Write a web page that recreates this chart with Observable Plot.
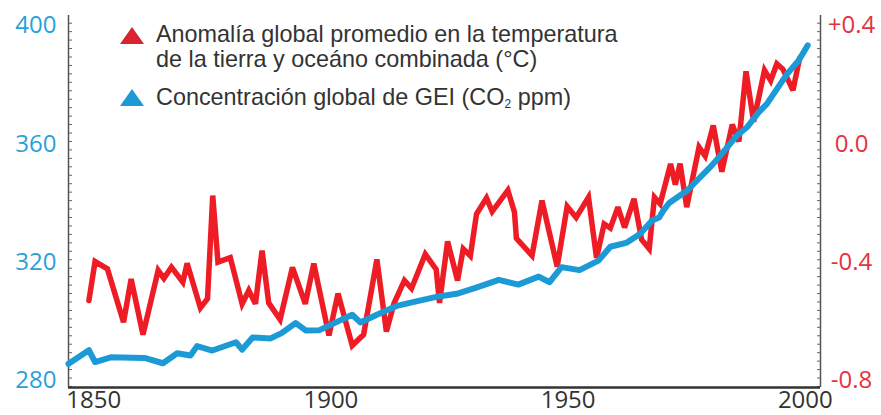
<!DOCTYPE html>
<html>
<head>
<meta charset="utf-8">
<script src="https://cdn.jsdelivr.net/npm/d3@7"></script>
<script src="https://cdn.jsdelivr.net/npm/@observablehq/plot@0.6"></script>
<style>
  html, body { margin: 0; padding: 0; background: #fff; }
  #wrap { position: relative; width: 881px; height: 415px; overflow: hidden; }
  #chart { position: absolute; left: 0; top: 0; }
  .leg { position: absolute; font-family: "Liberation Sans", Arial, sans-serif; font-size: 23.4px; line-height: 25px; color: #333; white-space: nowrap; }
  .leg sub { font-size: 12px; vertical-align: -3px; line-height: 0; }
  .tri { position: absolute; }
</style>
</head>
<body>
<div id="wrap">
  <div id="chart"></div>
  <svg class="tri" style="left:120px; top:27px" width="24" height="17"><polygon points="12,0 24,17 0,17" fill="#d9232e"/></svg>
  <div class="leg" style="left:156px; top:22px">Anomalía global promedio en la temperatura<br>de la tierra y oceáno combinada (°C)</div>
  <svg class="tri" style="left:120px; top:89px" width="24" height="17"><polygon points="12,0 24,17 0,17" fill="#1c9ad6"/></svg>
  <div class="leg" style="left:156px; top:85px">Concentración global de GEI (CO<sub>2</sub> ppm)</div>
</div>
<script>
// Temperature anomaly (°C)
const tempYears = [1849.0,1850.3,1852.9,1856.3,1857.9,1860.4,1863.6,1864.8,1866.4,1868.8,1869.7,1872.5,1874.0,1875.1,1876.2,1878.8,1881.3,1882.7,1884.1,1885.5,1886.9,1889.3,1891.9,1894.6,1896.4,1899.6,1901.5,1904.5,1906.9,1909.7,1911.7,1913.3,1915.5,1917.0,1919.9,1922.2,1922.9,1924.6,1926.7,1927.9,1929.4,1930.7,1932.8,1934.0,1937.3,1938.7,1939.1,1942.4,1944.5,1947.7,1949.8,1951.7,1954.3,1956.0,1957.6,1958.9,1960.5,1961.9,1963.9,1965.5,1967.1,1968.2,1969.4,1971.6,1972.6,1973.6,1975.0,1977.6,1978.9,1980.6,1982.4,1984.6,1986.0,1987.5,1989.1,1991.4,1992.7,1994.0,1995.3,1997.4,1998.8];
const tempAnomaly = [-0.530,-0.398,-0.423,-0.603,-0.457,-0.645,-0.428,-0.455,-0.417,-0.468,-0.404,-0.555,-0.524,-0.175,-0.400,-0.385,-0.541,-0.496,-0.541,-0.361,-0.538,-0.594,-0.418,-0.541,-0.405,-0.648,-0.506,-0.682,-0.645,-0.391,-0.635,-0.540,-0.462,-0.489,-0.373,-0.425,-0.538,-0.330,-0.462,-0.355,-0.379,-0.237,-0.183,-0.229,-0.157,-0.231,-0.320,-0.378,-0.192,-0.415,-0.212,-0.249,-0.181,-0.386,-0.271,-0.285,-0.214,-0.283,-0.186,-0.324,-0.355,-0.181,-0.203,-0.068,-0.138,-0.067,-0.214,-0.011,-0.041,0.062,-0.094,0.065,0.008,0.245,0.075,0.249,0.214,0.271,0.252,0.181,0.290];

// CO2 concentration (ppm)
const co2Years = [1844.7,1849.0,1850.3,1853.6,1860.7,1864.6,1867.6,1870.4,1871.8,1875.0,1880.0,1881.3,1883.5,1887.3,1889.6,1892.6,1894.7,1897.6,1900.5,1904.5,1906.2,1909.8,1914.1,1918.7,1922.7,1926.5,1930.3,1933.1,1935.4,1939.5,1943.8,1946.1,1948.6,1952.4,1956.4,1958.9,1962.4,1965.2,1967.7,1969.2,1970.1,1971.3,1975.1,1976.5,1980.3,1982.1,1985.6,1987.7,1990.2,1991.9,1996.1,1998.6,2000.5];
const co2Ppm = [285.6,290.2,286.2,287.8,287.6,285.8,289.2,288.4,291.6,290.1,292.9,290.4,294.5,294.2,296.0,299.4,296.9,297.0,299.2,302.2,299.6,302.3,305.3,307.0,308.4,309.3,311.2,312.7,314.0,312.4,315.1,313.2,318.3,317.3,320.5,325.2,326.6,329.6,334.1,335.1,337.5,340.0,344.2,346.5,352.7,356.1,362.8,365.6,370.7,373.5,383.5,388.2,393.3];

// Tick labels
const xTickLabels = [1850, 1900, 1950, 2000];
const co2TickLabels = [280, 320, 360, 400];
const tempTickLabels = [-0.8, -0.4, 0.0, 0.4];

// axis layout
const xDomain = [1844.7, 2003.2];
const yDomain = [277.6, 403.4];
const toPpm = t => 360 + 100 * t;   // 0.0 °C aligned with 360 ppm, 0.4 °C per 40 ppm
const minorTicks = d3.range(400.8, yDomain[0], -2.857);

const temp = tempYears.map((y, i) => ({year: y, t: tempAnomaly[i]}));
const co2 = co2Years.map((y, i) => ({year: y, ppm: co2Ppm[i]}));

const RED = "#ee1d25", BLUE = "#1c9ad6";

const chart = Plot.plot({
  width: 881,
  height: 415,
  marginLeft: 68,
  marginRight: 61,
  marginTop: 15,
  marginBottom: 28,
  style: {fontFamily: "'Open Sans', sans-serif", background: "transparent"},
  x: {domain: xDomain, label: null},
  y: {domain: yDomain, label: null},
  marks: [
    Plot.axisX(xTickLabels, {label: null, tickSize: 0, tickPadding: 3, fontSize: 24, fill: "#333", tickFormat: d => String(d)}),
    Plot.axisY(co2TickLabels, {label: null, anchor: "left", tickSize: 0, tickPadding: 12, fontSize: 24, fill: "#2aa0d8", tickFormat: d => String(d)}),
    Plot.axisY(tempTickLabels.map(toPpm), {label: null, anchor: "right", tickSize: 0, tickPadding: 31, textAnchor: "middle", fontSize: 24, fill: "#e3343d",
      tickFormat: d => { const t = (d - 360) / 100; return (t > 0.001 ? "+" : "") + t.toFixed(1); }}),
    Plot.axisY(minorTicks, {label: null, anchor: "left", tickSize: 4, dx: 4, text: null, stroke: "#666", strokeWidth: 1}),
    Plot.axisY(minorTicks, {label: null, anchor: "right", tickSize: 4, dx: -4, text: null, stroke: "#666", strokeWidth: 1}),
    Plot.ruleX([xDomain[0]], {stroke: "#555", strokeWidth: 1.5}),
    Plot.ruleX([xDomain[1]], {stroke: "#555", strokeWidth: 1.5}),
    Plot.ruleY([yDomain[0]], {stroke: "#333", strokeWidth: 2.5}),
    Plot.line(temp, {x: "year", y: d => toPpm(d.t), stroke: RED, strokeWidth: 5.5, strokeLinejoin: "miter", strokeMiterlimit: 3}),
    Plot.line(co2, {x: "year", y: "ppm", stroke: BLUE, strokeWidth: 6, strokeLinejoin: "round", strokeLinecap: "round"})
  ]
});
document.getElementById("chart").appendChild(chart);
</script>
</body>
</html>
